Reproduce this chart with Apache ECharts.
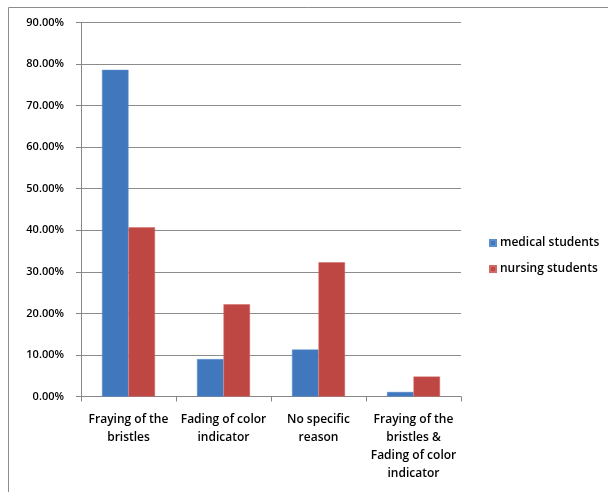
<!DOCTYPE html>
<html>
<head>
<meta charset="utf-8">
<script src="https://cdn.jsdelivr.net/npm/echarts@6/dist/echarts.min.js"></script>
<style>
  html, body { margin: 0; padding: 0; background: #fff; }
  #chart { width: 608px; height: 492px; }
</style>
</head>
<body>
<div id="chart"></div>
<script>
// Reasons for replacing a toothbrush, by student group (fraction of respondents)
const categories = [
  'Fraying of the\nbristles',
  'Fading of color\nindicator',
  'No specific\nreason',
  'Fraying of the\nbristles &\nFading of color\nindicator'
];
const medicalStudents = [0.786, 0.090, 0.113, 0.011];
const nursingStudents = [0.407, 0.222, 0.323, 0.048];
const seriesNames = ['medical students', 'nursing students'];

const FONT = '"Open Sans", Lato, sans-serif';
const WEIGHT = 600;
const chart = echarts.init(document.getElementById('chart'), null, { renderer: 'canvas' });

chart.setOption({
  animation: false,
  backgroundColor: '#ffffff',
  graphic: [{
    type: 'rect',
    shape: { x: 8.5, y: 7.5, width: 640, height: 520 },
    style: { fill: 'none', stroke: '#8c8c8c', lineWidth: 1 },
    silent: true
  }],
  grid: { left: 81, right: 147, top: 22.5, bottom: 95.5, containLabel: false },
  legend: {
    orient: 'vertical',
    left: 484,
    top: 232,
    itemWidth: 6,
    itemHeight: 6,
    itemGap: 14,
    icon: 'rect',
    textStyle: { fontFamily: FONT, fontWeight: WEIGHT, fontSize: 12, color: '#000', padding: [0, 0, 0, -1] },
    data: seriesNames
  },
  xAxis: {
    type: 'category',
    data: categories,
    axisLine: { lineStyle: { color: '#868686' } },
    axisTick: { show: true, length: 5, lineStyle: { color: '#868686' } },
    axisLabel: {
      interval: 0,
      margin: 14,
      fontFamily: FONT,
      fontWeight: WEIGHT,
      fontSize: 12,
      lineHeight: 18,
      color: '#000'
    }
  },
  yAxis: {
    type: 'value',
    min: 0,
    max: 0.9,
    interval: 0.1,
    axisLine: { show: true, lineStyle: { color: '#868686' } },
    axisTick: { show: true, length: 5, inside: false, lineStyle: { color: '#868686' } },
    splitLine: { lineStyle: { color: '#8c8c8c' } },
    axisLabel: {
      margin: 17,
      fontFamily: FONT,
      fontWeight: WEIGHT,
      fontSize: 11,
      color: '#000',
      formatter: v => (v * 100).toFixed(2) + '%'
    }
  },
  series: [
    {
      name: seriesNames[0],
      type: 'bar',
      data: medicalStudents,
      barWidth: 26.5,
      barGap: '0%',
      itemStyle: { color: '#4077bd', borderColor: '#5b8fd0', borderWidth: 0.5 }
    },
    {
      name: seriesNames[1],
      type: 'bar',
      data: nursingStudents,
      barWidth: 26.5,
      barGap: '0%',
      itemStyle: { color: '#be4643', borderColor: '#d06a67', borderWidth: 0.5 }
    }
  ]
});
</script>
</body>
</html>
